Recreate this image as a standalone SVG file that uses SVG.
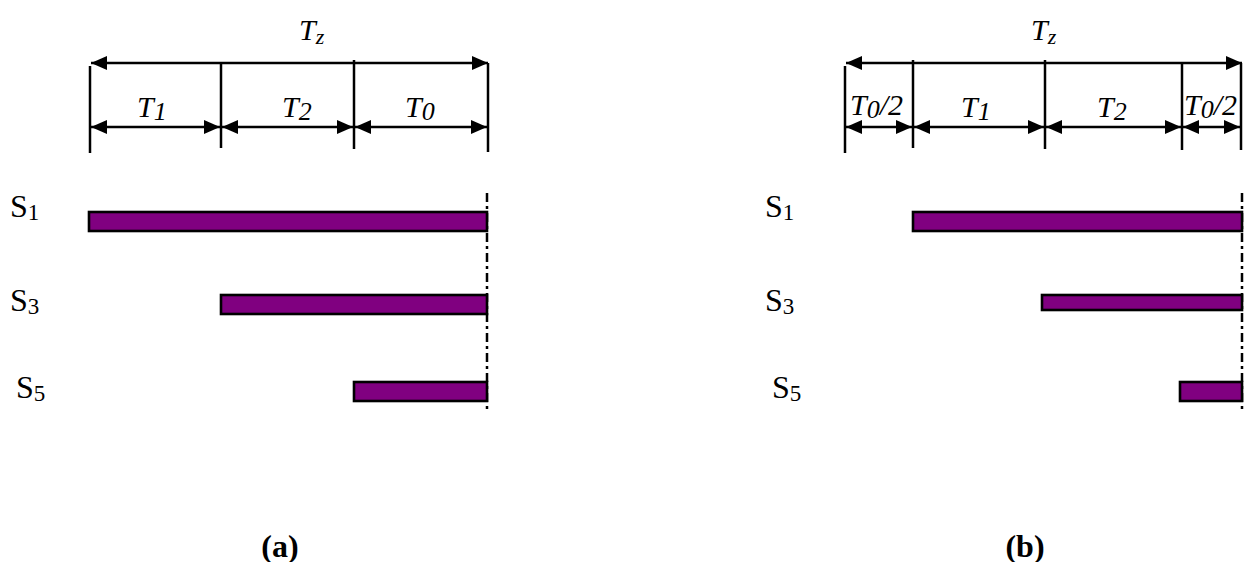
<svg xmlns="http://www.w3.org/2000/svg" width="1245" height="562" viewBox="0 0 1245 562">
<style>
.ln{stroke:#000;stroke-width:2.5;fill:none}
.dim{stroke:#000;stroke-width:2.5;fill:none;marker-start:url(#ah);marker-end:url(#ah)}
.bar{fill:#800080;stroke:#000;stroke-width:2.6}
.dd{stroke:#000;stroke-width:2.5;stroke-dasharray:9 4 3 4;fill:none}
.t{font-family:'Liberation Serif','Times New Roman','DejaVu Serif',serif;font-style:italic;font-size:30px;fill:#000}
.s{font-family:'Liberation Serif','Times New Roman','DejaVu Serif',serif;font-size:32px;fill:#000}
.cap{font-family:'Liberation Serif','Times New Roman','DejaVu Serif',serif;font-weight:bold;font-size:32px;fill:#000;text-anchor:middle}
</style>
<defs>
<marker id="ah" markerUnits="userSpaceOnUse" markerWidth="18" markerHeight="16" refX="16" refY="7" orient="auto-start-reverse">
<path d="M0,0 L16,7 L0,14 z" fill="#000"/>
</marker>
</defs>
<g id="panel-a">
<g id="a-ticks">
<line class="ln" x1="90" y1="66" x2="90" y2="153"/>
<line class="ln" x1="221" y1="63" x2="221" y2="148"/>
<line class="ln" x1="354" y1="60" x2="354" y2="149"/>
<line class="ln" x1="488" y1="63" x2="488" y2="152"/>
</g>
<g id="a-connectors">
<line class="dim" x1="91" y1="63" x2="488" y2="63"/>
<line class="dim" x1="91" y1="127" x2="220" y2="127"/>
<line class="dim" x1="222" y1="127" x2="353" y2="127"/>
<line class="dim" x1="355" y1="127" x2="487" y2="127"/>
<line class="dd" x1="487" y1="193" x2="487" y2="410"/>
</g>
<g id="a-labels">
<text class="t" x="299" y="40">T<tspan font-size="22" dy="4">z</tspan></text>
<text class="t" x="137" y="117">T<tspan font-size="26" dy="3">1</tspan></text>
<text class="t" x="282" y="117">T<tspan font-size="26" dy="3">2</tspan></text>
<text class="t" x="405" y="117">T<tspan font-size="26" dy="3">0</tspan></text>
</g>
<g id="a-S1"><text class="s" x="10" y="217">S<tspan font-size="23" dy="3">1</tspan></text><rect class="bar" x="89" y="212" width="398" height="19"/></g>
<g id="a-S3"><text class="s" x="10" y="311">S<tspan font-size="23" dy="3">3</tspan></text><rect class="bar" x="221" y="295" width="266" height="19"/></g>
<g id="a-S5"><text class="s" x="16" y="398">S<tspan font-size="23" dy="3">5</tspan></text><rect class="bar" x="354" y="382" width="133" height="19"/></g>
<text class="cap" x="280" y="557">(a)</text>
</g>
<g id="panel-b">
<g id="b-ticks">
<line class="ln" x1="845" y1="66" x2="845" y2="153"/>
<line class="ln" x1="913" y1="60" x2="913" y2="148"/>
<line class="ln" x1="1045" y1="60" x2="1045" y2="149"/>
<line class="ln" x1="1182" y1="63" x2="1182" y2="150"/>
<line class="ln" x1="1241" y1="63" x2="1241" y2="150"/>
</g>
<g id="b-connectors">
<line class="dim" x1="846" y1="63" x2="1242" y2="63"/>
<line class="dim" x1="846" y1="127" x2="912" y2="127"/>
<line class="dim" x1="914" y1="127" x2="1044" y2="127"/>
<line class="dim" x1="1046" y1="127" x2="1181" y2="127"/>
<line class="dim" x1="1183" y1="127" x2="1240" y2="127"/>
<line class="dd" x1="1242" y1="193" x2="1242" y2="410"/>
</g>
<g id="b-labels">
<text class="t" x="1031" y="40">T<tspan font-size="22" dy="4">z</tspan></text>
<text class="t" x="850" y="115">T<tspan font-size="26" dy="3">0</tspan><tspan dy="-3">/2</tspan></text>
<text class="t" x="961" y="117">T<tspan font-size="26" dy="3">1</tspan></text>
<text class="t" x="1097" y="117">T<tspan font-size="26" dy="3">2</tspan></text>
<text class="t" x="1184" y="115">T<tspan font-size="26" dy="3">0</tspan><tspan dy="-3">/2</tspan></text>
</g>
<g id="b-S1"><text class="s" x="765" y="217">S<tspan font-size="23" dy="3">1</tspan></text><rect class="bar" x="913" y="212" width="329" height="19"/></g>
<g id="b-S3"><text class="s" x="765" y="311">S<tspan font-size="23" dy="3">3</tspan></text><rect class="bar" x="1042" y="295" width="200" height="15"/></g>
<g id="b-S5"><text class="s" x="772" y="398">S<tspan font-size="23" dy="3">5</tspan></text><rect class="bar" x="1180" y="382" width="62" height="19"/></g>
<text class="cap" x="1025" y="557">(b)</text>
</g>
</svg>
